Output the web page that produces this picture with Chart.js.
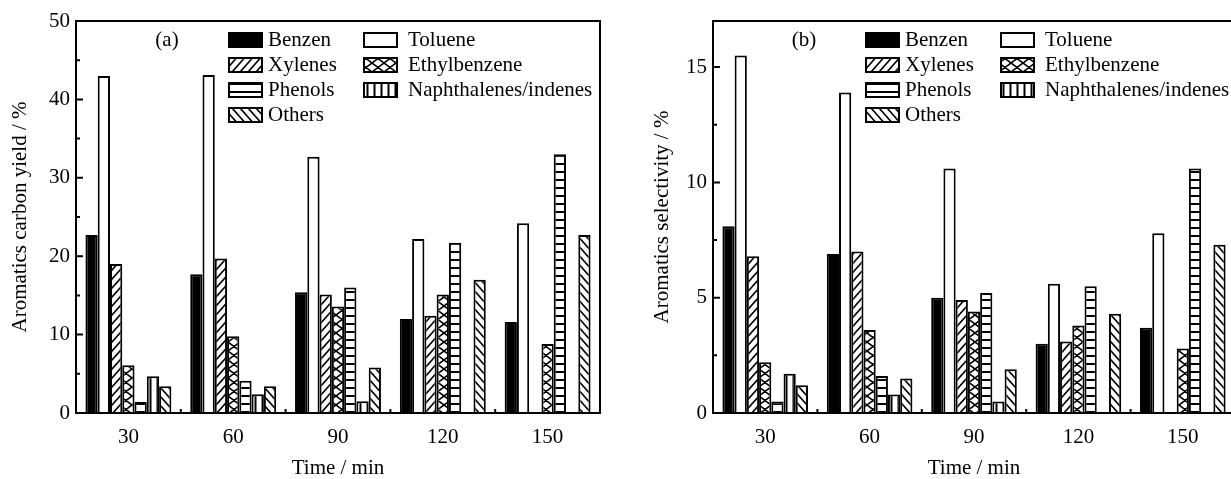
<!DOCTYPE html>
<html>
<head>
<meta charset="utf-8">
<script src="https://cdn.jsdelivr.net/npm/chart.js@4.4.0/dist/chart.umd.min.js"></script>
<style>
	html, body { margin: 0; padding: 0; background: #fff; overflow: hidden; }
	#wrap { position: relative; width: 1231px; height: 479px; overflow: hidden; }
	#chartA { position: absolute; left: 0; top: 0; }
	#chartB { position: absolute; left: 615px; top: 0; }
</style>
</head>
<body>
<div id="wrap">
	<canvas id="chartA" width="615" height="479"></canvas>
	<canvas id="chartB" width="630" height="479"></canvas>
</div>
<script>
'use strict';

var times = ['30', '60', '90', '120', '150'];
var seriesNames = ['Benzen', 'Toluene', 'Xylenes', 'Ethylbenzene', 'Phenols', 'Naphthalenes/indenes', 'Others'];

// (a) aromatics carbon yield, %
var yieldBenzen = [22.7, 17.7, 15.4, 12.0, 11.6];
var yieldToluene = [43.0, 43.1, 32.7, 22.2, 24.2];
var yieldXylenes = [19.0, 19.7, 15.1, 12.4, 0];
var yieldEthylbenzene = [6.1, 9.8, 13.6, 15.1, 8.8];
var yieldPhenols = [1.4, 4.1, 16.0, 21.7, 33.0];
var yieldNaphthalenes = [4.7, 2.4, 1.5, 0, 0];
var yieldOthers = [3.4, 3.4, 5.8, 17.0, 22.7];

// (b) aromatics selectivity, %
var selBenzen = [8.1, 6.9, 5.0, 3.0, 3.7];
var selToluene = [15.5, 13.9, 10.6, 5.6, 7.8];
var selXylenes = [6.8, 7.0, 4.9, 3.1, 0];
var selEthylbenzene = [2.2, 3.6, 4.4, 3.8, 2.8];
var selPhenols = [0.5, 1.6, 5.2, 5.5, 10.6];
var selNaphthalenes = [1.7, 0.8, 0.5, 0, 0];
var selOthers = [1.2, 1.5, 1.9, 4.3, 7.3];

var yieldTicks = [0, 10, 20, 30, 40, 50];
var selTicks = [0, 5, 10, 15];

var serif = 'Liberation Serif';

// Hatch fills, one tile each.
function hatch(kind, w, h) {
	var c = document.createElement('canvas');
	c.width = w;
	c.height = h;
	var g = c.getContext('2d');
	g.fillStyle = '#fff';
	g.fillRect(0, 0, w, h);
	g.strokeStyle = '#000';
	g.lineWidth = 1.6;
	g.beginPath();
	if (kind === 'fwd' || kind === 'cross') {
		g.moveTo(-w * 0.2, h * 1.2); g.lineTo(w * 1.2, -h * 0.2);
		g.moveTo(-w * 0.2, h * 0.2); g.lineTo(w * 0.2, -h * 0.2);
		g.moveTo(w * 0.8, h * 1.2); g.lineTo(w * 1.2, h * 0.8);
	}
	if (kind === 'back' || kind === 'cross') {
		g.moveTo(-w * 0.2, -h * 0.2); g.lineTo(w * 1.2, h * 1.2);
		g.moveTo(w * 0.8, -h * 0.2); g.lineTo(w * 1.2, h * 0.2);
		g.moveTo(-w * 0.2, h * 0.8); g.lineTo(w * 0.2, h * 1.2);
	}
	if (kind === 'horiz') {
		g.lineWidth = 2;
		g.moveTo(0, h / 2); g.lineTo(w, h / 2);
	}
	if (kind === 'vert') {
		g.lineWidth = 2;
		g.moveTo(w / 2, 0); g.lineTo(w / 2, h);
	}
	g.stroke();
	return g.createPattern(c, 'repeat');
}

var fills = [
	'#000',
	'#fff',
	hatch('fwd', 8, 9),
	hatch('cross', 12, 9),
	hatch('horiz', 8, 8),
	hatch('vert', 7, 8),
	hatch('back', 8, 9)
];

// Frame, inward ticks, panel tag and the two-column legend.
var panelDecor = {
	id: 'panelDecor',
	afterDraw: function(chart, args, opts) {
		var ctx = chart.ctx;
		var area = chart.chartArea;
		var xs = chart.scales.x;
		var ys = chart.scales.y;
		var i;

		ctx.save();
		ctx.strokeStyle = '#000';
		ctx.lineWidth = 2;
		ctx.strokeRect(area.left, area.top, area.right - area.left, area.bottom - area.top);

		ctx.beginPath();
		for (i = 0; i < opts.ticks.length; i++) {
			var py = ys.getPixelForValue(opts.ticks[i]);
			ctx.moveTo(area.left, py);
			ctx.lineTo(area.left + 7, py);
			if (i < opts.ticks.length - 1) {
				var my = ys.getPixelForValue((opts.ticks[i] + opts.ticks[i + 1]) / 2);
				ctx.moveTo(area.left, my);
				ctx.lineTo(area.left + 4, my);
			}
		}
		for (i = 0; i < times.length - 1; i++) {
			var bx = (xs.getPixelForValue(i) + xs.getPixelForValue(i + 1)) / 2;
			ctx.moveTo(bx, area.bottom);
			ctx.lineTo(bx, area.bottom - 4);
		}
		ctx.stroke();

		ctx.fillStyle = '#000';
		ctx.font = '21px "' + serif + '"';
		ctx.textBaseline = 'middle';
		ctx.textAlign = 'center';
		ctx.fillText(opts.tag, area.left + 91, 40);

		ctx.textAlign = 'left';
		var colBox = [153, 288];
		var colText = [39, 44];
		chart.data.datasets.forEach(function(ds, k) {
			var col = k % 2;
			var row = Math.floor(k / 2);
			var bx0 = area.left + colBox[col];
			var by0 = 33 + row * 25;
			ctx.fillStyle = ds.backgroundColor;
			ctx.fillRect(bx0, by0, 33, 14);
			ctx.lineWidth = 2;
			ctx.strokeRect(bx0, by0, 33, 14);
			ctx.fillStyle = '#000';
			ctx.fillText(ds.label, bx0 + colText[col], by0 + 7);
		});
		ctx.restore();
	}
};

function buildChart(id, tag, yTitle, yMax, tickValues, values, yWidth, titlePad, padRight) {
	var datasets = seriesNames.map(function(name, i) {
		return {
			label: name,
			data: values[i],
			backgroundColor: fills[i],
			borderColor: '#000',
			borderWidth: 2
		};
	});
	var font = { family: serif, size: 21, lineHeight: 1 };

	return new Chart(document.getElementById(id), {
		type: 'bar',
		data: { labels: times, datasets: datasets },
		options: {
			responsive: false,
			animation: false,
			layout: { padding: { top: 21, right: padRight, left: 0, bottom: 0 } },
			datasets: { bar: { categoryPercentage: 0.82, barPercentage: 1 } },
			scales: {
				x: {
					grid: { display: false, drawTicks: false },
					border: { display: false },
					ticks: { color: '#000', font: font, padding: 14, maxRotation: 0 },
					title: { display: true, text: 'Time / min', color: '#000', font: font, padding: { top: 0, bottom: 0 } },
					afterFit: function(s) { s.height = 66; }
				},
				y: {
					min: 0,
					max: yMax,
					grid: { display: false, drawTicks: false },
					border: { display: false },
					ticks: { color: '#000', font: font, padding: 6, includeBounds: false },
					afterBuildTicks: function(s) {
						s.ticks = tickValues.map(function(v) { return { value: v }; });
					},
					title: { display: true, text: yTitle, color: '#000', font: font, padding: { top: titlePad, bottom: 0 } },
					afterFit: function(s) { s.width = yWidth; }
				}
			},
			plugins: {
				legend: { display: false },
				tooltip: { enabled: false },
				panelDecor: { tag: tag, ticks: tickValues }
			}
		},
		plugins: [ panelDecor ]
	});
}

buildChart('chartA', '(a)', 'Aromatics carbon yield / %', 50, yieldTicks,
	[yieldBenzen, yieldToluene, yieldXylenes, yieldEthylbenzene, yieldPhenols, yieldNaphthalenes, yieldOthers],
	76, 10, 15);

buildChart('chartB', '(b)', 'Aromatics selectivity / %', 17, selTicks,
	[selBenzen, selToluene, selXylenes, selEthylbenzene, selPhenols, selNaphthalenes, selOthers],
	98, 37, 10);
</script>
</body>
</html>
